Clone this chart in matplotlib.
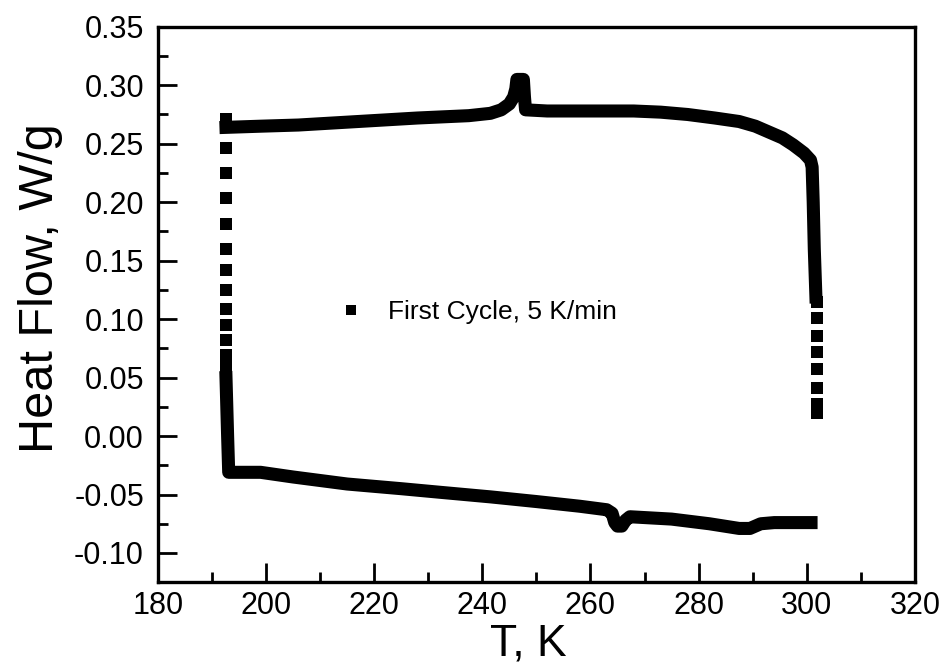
import numpy as np
import matplotlib.pyplot as plt

plt.rcParams['font.family'] = ['Liberation Sans', 'DejaVu Sans']

# cooling branch (upper), continuous part
upper_T = [192.6, 199, 206, 217, 228, 237.5, 241.5, 243.5, 245.0, 245.8, 246.2, 246.4,
           247.6, 247.8, 248.0, 252, 262, 268, 273, 278, 283, 287.5, 290.5, 293,
           295.5, 297.5, 299.5, 300.7, 301.0, 301.2, 301.4, 301.7]
upper_hf = [0.264, 0.265, 0.266, 0.269, 0.272, 0.274, 0.276, 0.279, 0.284, 0.290, 0.297, 0.305,
            0.305, 0.290, 0.279, 0.278, 0.278, 0.278, 0.277, 0.275, 0.272, 0.269, 0.265, 0.260,
            0.255, 0.249, 0.242, 0.236, 0.230, 0.200, 0.160, 0.119]

# sparse points where the signal jumps at 302 K
right_T = [301.9, 301.9, 301.9, 301.9, 301.9, 301.9, 301.9, 301.9]
right_hf = [0.115, 0.101, 0.086, 0.072, 0.057, 0.041, 0.027, 0.020]

# heating branch (lower), continuous part
lower_T = [192.6, 192.9, 193.1, 196, 199, 205, 215, 225, 232, 241.5, 250, 258,
           263, 264.0, 264.5, 265.0, 265.8, 266.5, 267.3, 275, 282, 287.5, 289.5,
           291.5, 294, 300.8]
lower_hf = [0.050, 0.000, -0.031, -0.031, -0.031, -0.035, -0.041, -0.045, -0.048,
            -0.052, -0.056, -0.060, -0.063, -0.066, -0.074, -0.077, -0.077, -0.072,
            -0.069, -0.071, -0.075, -0.079, -0.079, -0.075, -0.074, -0.074]

# sparse points of the jump at 192 K
left_T = [192.6] * 13
left_hf = [0.271, 0.246, 0.225, 0.204, 0.181, 0.160, 0.142, 0.125, 0.109, 0.095,
           0.082, 0.069, 0.059]

fig = plt.figure(figsize=(9.51, 6.70), dpi=100)
ax = fig.add_axes([0.166, 0.131, 0.796, 0.829])

lw = 9.4
ms = 9
ax.plot(upper_T, upper_hf, '-', color='k', lw=lw, solid_capstyle='projecting',
        solid_joinstyle='round')
ax.plot(lower_T, lower_hf, '-', color='k', lw=lw, solid_capstyle='projecting',
        solid_joinstyle='round')
ax.plot(left_T, left_hf, 's', color='k', ms=ms, mew=0)
ax.plot(right_T, right_hf, 's', color='k', ms=ms, mew=0,
        label='First Cycle, 5 K/min')

ax.set_xlim(180, 320)
ax.set_ylim(-0.125, 0.35)
ax.set_xticks(np.arange(180, 321, 20))
ax.set_xticks(np.arange(190, 320, 20), minor=True)
ax.set_yticks(np.arange(-0.10, 0.351, 0.05))
ax.set_yticks(np.arange(-0.125, 0.35, 0.05), minor=True)
ax.yaxis.set_major_formatter(plt.FormatStrFormatter('%.2f'))

ax.tick_params(which='both', direction='in', top=False, right=False, width=2)
ax.tick_params(which='major', length=14)
ax.tick_params(which='minor', length=7)
ax.tick_params(axis='x', labelsize=22, pad=6)
ax.tick_params(axis='y', labelsize=22, pad=10)
for s in ax.spines.values():
    s.set_linewidth(2.4)

ax.set_xlabel('T, K', fontsize=32, labelpad=0)
ax.xaxis.set_label_coords(0.49, -0.075)
fig.text(41 / 951, 1 - 288 / 670, 'Heat Flow, W/g', fontsize=35, rotation=90,
         ha='center', va='center')

ax.legend(loc='center left', bbox_to_anchor=(0.21, 0.486), frameon=False,
          fontsize=19, markerscale=0.8, handlelength=0.8, handletextpad=1.0)

fig.savefig('out.png', dpi=100)
